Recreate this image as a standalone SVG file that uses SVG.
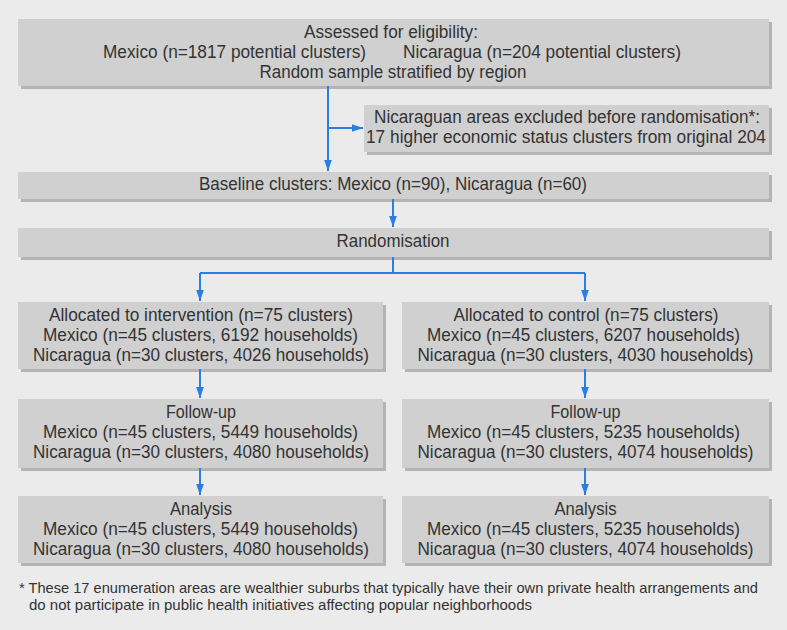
<svg xmlns="http://www.w3.org/2000/svg" width="787" height="630" viewBox="0 0 787 630">
<defs>
<marker id="ah" viewBox="0 0 10 7" refX="10" refY="3.5" markerWidth="5.5" markerHeight="3.85" markerUnits="strokeWidth" orient="auto">
<path d="M0,0 L10,3.5 L0,7 z" fill="#2a7de1"/>
</marker>
<style>
.bg{fill:#ebebeb}
.box{fill:#d0d0d0}
.sh{fill:#b4b4b4}
text{font-family:"Liberation Sans",Arial,sans-serif;font-size:17.5px;fill:#333333;text-anchor:middle}
.fn{font-size:14.5px;text-anchor:start}
.c{fill:none;stroke:#2a7de1;stroke-width:2}
</style>
</defs>
<rect class="bg" x="0" y="0" width="787" height="630"/>
<g id="assessed">
<rect class="sh" x="21" y="22" width="751" height="67"/>
<rect class="box" x="18" y="19" width="751" height="67"/>
<text x="391" y="38" textLength="174" lengthAdjust="spacingAndGlyphs">Assessed for eligibility:</text>
<text x="234.5" y="58" textLength="263" lengthAdjust="spacingAndGlyphs">Mexico (n=1817 potential clusters)</text>
<text x="542" y="58" textLength="278" lengthAdjust="spacingAndGlyphs">Nicaragua (n=204 potential clusters)</text>
<text x="393" y="78" textLength="267" lengthAdjust="spacingAndGlyphs">Random sample stratified by region</text>
</g>
<g id="excluded">
<rect class="sh" x="367" y="108" width="405" height="47"/>
<rect class="box" x="364" y="105" width="405" height="47"/>
<text x="567" y="123" textLength="386" lengthAdjust="spacingAndGlyphs">Nicaraguan areas excluded before randomisation*:</text>
<text x="566" y="143" textLength="400" lengthAdjust="spacingAndGlyphs">17 higher economic status clusters from original 204</text>
</g>
<g id="baseline">
<rect class="sh" x="21" y="175" width="751" height="27"/>
<rect class="box" x="18" y="172" width="751" height="27"/>
<text x="393" y="190" textLength="388" lengthAdjust="spacingAndGlyphs">Baseline clusters: Mexico (n=90), Nicaragua (n=60)</text>
</g>
<g id="randomisation">
<rect class="sh" x="21" y="231" width="751" height="29"/>
<rect class="box" x="18" y="228" width="751" height="29"/>
<text x="393" y="247" textLength="113" lengthAdjust="spacingAndGlyphs">Randomisation</text>
</g>
<g id="alloc-intervention">
<rect class="sh" x="21" y="305" width="365" height="67"/>
<rect class="box" x="18" y="302" width="365" height="67"/>
<text x="201" y="321" textLength="304" lengthAdjust="spacingAndGlyphs">Allocated to intervention (n=75 clusters)</text>
<text x="200.5" y="341" textLength="315" lengthAdjust="spacingAndGlyphs">Mexico (n=45 clusters, 6192 households)</text>
<text x="201" y="361" textLength="336" lengthAdjust="spacingAndGlyphs">Nicaragua (n=30 clusters, 4026 households)</text>
</g>
<g id="alloc-control">
<rect class="sh" x="405" y="305" width="367" height="67"/>
<rect class="box" x="402" y="302" width="367" height="67"/>
<text x="586" y="321" textLength="265" lengthAdjust="spacingAndGlyphs">Allocated to control (n=75 clusters)</text>
<text x="583.5" y="341" textLength="313" lengthAdjust="spacingAndGlyphs">Mexico (n=45 clusters, 6207 households)</text>
<text x="585.5" y="361" textLength="336" lengthAdjust="spacingAndGlyphs">Nicaragua (n=30 clusters, 4030 households)</text>
</g>
<g id="followup-intervention">
<rect class="sh" x="21" y="402" width="365" height="69"/>
<rect class="box" x="18" y="399" width="365" height="69"/>
<text x="201" y="418" textLength="70" lengthAdjust="spacingAndGlyphs">Follow-up</text>
<text x="200.5" y="438" textLength="315" lengthAdjust="spacingAndGlyphs">Mexico (n=45 clusters, 5449 households)</text>
<text x="201" y="458" textLength="336" lengthAdjust="spacingAndGlyphs">Nicaragua (n=30 clusters, 4080 households)</text>
</g>
<g id="followup-control">
<rect class="sh" x="405" y="402" width="367" height="69"/>
<rect class="box" x="402" y="399" width="367" height="69"/>
<text x="585.5" y="418" textLength="70" lengthAdjust="spacingAndGlyphs">Follow-up</text>
<text x="583.5" y="438" textLength="313" lengthAdjust="spacingAndGlyphs">Mexico (n=45 clusters, 5235 households)</text>
<text x="585.5" y="458" textLength="336" lengthAdjust="spacingAndGlyphs">Nicaragua (n=30 clusters, 4074 households)</text>
</g>
<g id="analysis-intervention">
<rect class="sh" x="21" y="499" width="365" height="67"/>
<rect class="box" x="18" y="496" width="365" height="67"/>
<text x="201" y="515" textLength="62" lengthAdjust="spacingAndGlyphs">Analysis</text>
<text x="200.5" y="535" textLength="315" lengthAdjust="spacingAndGlyphs">Mexico (n=45 clusters, 5449 households)</text>
<text x="201" y="555" textLength="336" lengthAdjust="spacingAndGlyphs">Nicaragua (n=30 clusters, 4080 households)</text>
</g>
<g id="analysis-control">
<rect class="sh" x="405" y="499" width="367" height="67"/>
<rect class="box" x="402" y="496" width="367" height="67"/>
<text x="585.5" y="515" textLength="62" lengthAdjust="spacingAndGlyphs">Analysis</text>
<text x="583.5" y="535" textLength="313" lengthAdjust="spacingAndGlyphs">Mexico (n=45 clusters, 5235 households)</text>
<text x="585.5" y="555" textLength="336" lengthAdjust="spacingAndGlyphs">Nicaragua (n=30 clusters, 4074 households)</text>
</g>
<g id="footnote">
<text class="fn" x="19" y="593" textLength="739" lengthAdjust="spacingAndGlyphs">* These 17 enumeration areas are wealthier suburbs that typically have their own private health arrangements and</text>
<text class="fn" x="29" y="610" textLength="503" lengthAdjust="spacingAndGlyphs">do not participate in public health initiatives affecting popular neighborhoods</text>
</g>
<g id="connectors">
<path class="c" d="M328,86 V171" marker-end="url(#ah)"/>
<path class="c" d="M328,128 H363" marker-end="url(#ah)"/>
<path class="c" d="M393,199 V227" marker-end="url(#ah)"/>
<path class="c" d="M393,257 V273 M200,273 H585"/>
<path class="c" d="M200,273 V301" marker-end="url(#ah)"/>
<path class="c" d="M585,273 V301" marker-end="url(#ah)"/>
<path class="c" d="M200,369 V398" marker-end="url(#ah)"/>
<path class="c" d="M585,369 V398" marker-end="url(#ah)"/>
<path class="c" d="M200,468 V495" marker-end="url(#ah)"/>
<path class="c" d="M585,468 V495" marker-end="url(#ah)"/>
</g>
</svg>
